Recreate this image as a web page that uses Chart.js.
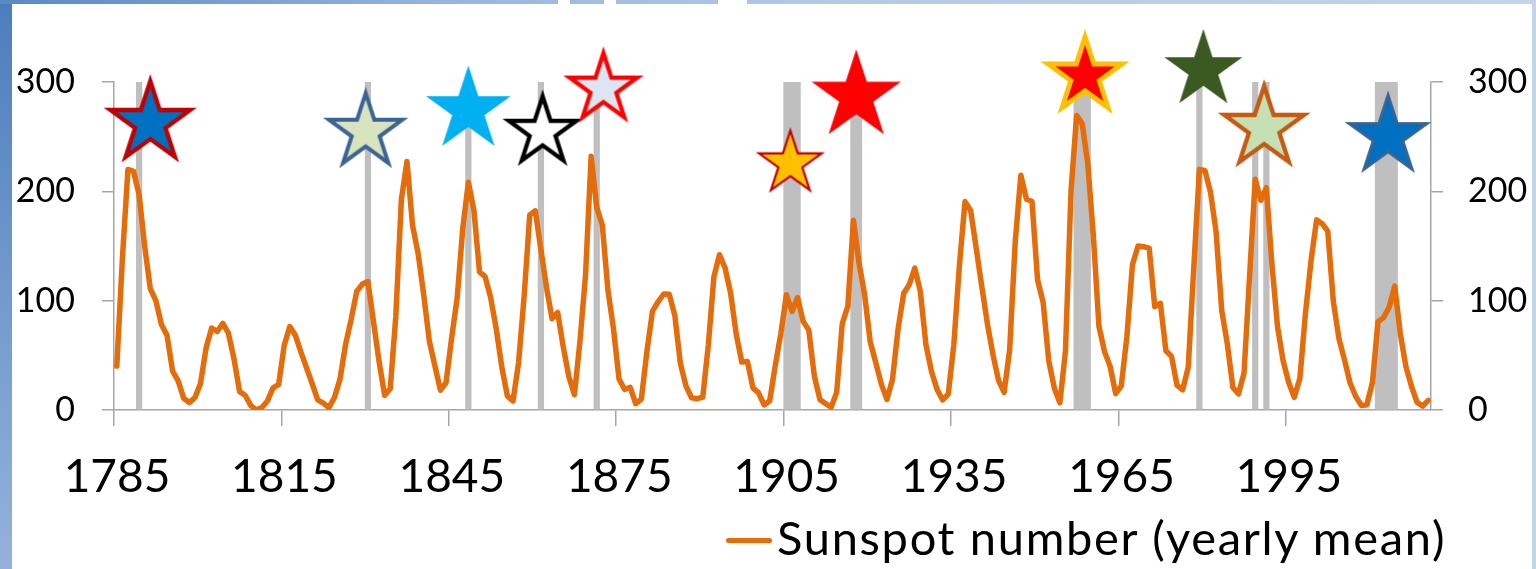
<!DOCTYPE html>
<html>
<head>
<meta charset="utf-8">
<title>Sunspot number (yearly mean)</title>
<script src="https://cdn.jsdelivr.net/npm/chart.js@4.4.1/dist/chart.umd.min.js"></script>
<style>
  html, body { margin: 0; padding: 0; }
  body { width: 1536px; height: 569px; overflow: hidden; position: relative; background: #c4d5ea; font-family: Lato, "Open Sans", sans-serif; }
  #leftstrip { position: absolute; left: 0; top: 0; width: 12px; height: 569px; background: linear-gradient(180deg, #4c7dbc 0%, #7199cc 50%, #93b2db 100%); }
  #topstrip { position: absolute; left: 0; top: 0; width: 1536px; height: 4px; background: linear-gradient(90deg, #5b88c4 0%, #9ab6dc 30%, #b5cae5 55%, #c2d3ea 100%); }
  .gap { position: absolute; top: 0; height: 4px; background: #fff; }
  #panel { position: absolute; left: 12px; top: 4px; width: 1520px; height: 565px; background: #fff; }
  #wrap { position: absolute; left: 0; top: 0; width: 1536px; height: 569px; }
  #legend { position: absolute; left: 777px; top: 509px; font-size: 47px; line-height: 56px; letter-spacing: 1.7px; color: #000; white-space: nowrap; }
  #swatch { position: absolute; left: 726px; top: 538px; width: 46px; height: 5px; border-radius: 3px; background: #e46c0a; }
</style>
</head>
<body>
<div id="leftstrip"></div>
<div id="topstrip"></div>
<div class="gap" style="left:558px;width:12px"></div>
<div class="gap" style="left:604px;width:12px"></div>
<div class="gap" style="left:718px;width:29px"></div>
<div id="panel"></div>
<div id="wrap"><canvas id="chart"></canvas></div>
<div id="swatch"></div>
<div id="legend">Sunspot number (yearly mean)</div>
<script>
// yearly mean sunspot number, 1785 .. 2020
const firstYear = 1785;
const sunspots = [
  40.2, 138.2, 220.0, 218.2, 196.8,
  149.8, 111.0, 100.0, 78.2, 68.3, 35.5, 26.7, 10.7, 6.8, 11.3,
  24.2, 56.7, 75.0, 71.8, 79.2, 70.3, 46.8, 16.8, 13.5, 4.2,
  0.0, 2.3, 8.3, 20.3, 23.2, 59.0, 76.3, 68.3, 52.9, 38.5,
  24.2, 9.2, 6.3, 2.2, 11.4, 28.2, 59.9, 83.0, 108.5, 115.2,
  117.4, 80.8, 44.3, 13.4, 19.5, 85.8, 192.7, 227.3, 168.7, 143.0,
  105.5, 63.3, 40.3, 18.1, 25.1, 65.8, 102.7, 166.3, 208.3, 182.5,
  126.3, 122.0, 102.7, 74.1, 39.0, 12.7, 8.2, 43.4, 104.4, 178.3,
  182.2, 146.6, 112.1, 83.5, 89.2, 57.8, 30.7, 13.9, 62.8, 123.6,
  232.0, 185.3, 169.2, 110.1, 74.5, 28.3, 18.9, 20.7, 5.7, 10.0,
  53.7, 90.5, 99.0, 106.1, 105.8, 86.3, 42.4, 21.8, 11.2, 10.4,
  11.8, 59.5, 121.7, 142.0, 130.0, 106.6, 69.4, 43.8, 44.4, 20.2,
  15.7, 4.6, 8.5, 40.8, 70.1, 105.5, 90.1, 102.8, 80.9, 73.2,
  30.9, 9.5, 6.0, 2.4, 16.1, 79.0, 95.0, 173.6, 134.6, 105.7,
  62.7, 43.5, 23.7, 9.7, 27.9, 74.0, 106.5, 114.7, 129.7, 108.2,
  59.4, 35.1, 18.6, 9.2, 14.6, 60.2, 132.8, 190.6, 182.6, 148.0,
  113.0, 79.2, 50.8, 27.1, 16.1, 55.3, 154.3, 214.7, 193.0, 190.7,
  118.9, 98.3, 45.0, 20.1, 6.6, 54.2, 200.7, 269.3, 261.7, 225.1,
  159.0, 76.4, 53.4, 39.9, 15.0, 22.0, 66.8, 132.9, 150.0, 149.4,
  148.0, 94.4, 97.6, 54.1, 49.2, 22.5, 18.4, 39.3, 131.0, 220.1,
  218.9, 198.9, 162.4, 91.0, 60.5, 20.6, 14.8, 33.9, 123.0, 211.1,
  191.8, 203.3, 133.0, 76.1, 44.9, 25.1, 11.6, 28.9, 88.3, 136.3,
  173.9, 170.4, 163.6, 99.3, 65.3, 45.8, 24.7, 12.6, 4.2, 4.8,
  24.9, 80.8, 84.5, 94.0, 113.3, 69.8, 39.8, 21.7, 7.0, 3.6,
  8.8
];
const years = sunspots.map((v, i) => firstYear + i);

// grey marker bars (years), drawn up to the top of the axis
const barYears = [1789, 1830, 1848, 1861, 1871, 1905, 1906, 1907, 1917, 1918,
                  1957, 1958, 1959, 1979, 1989, 1991, 2011, 2012, 2013, 2014];
const barTop = 300;

// star markers
const starYears  = [1791.0, 1829.6, 1848.0, 1861.3, 1872.2, 1905.7, 1917.5, 1958.5, 1979.7, 1990.6, 2012.8];
const starValues = [262.5, 254.5, 274.5, 254.5, 294.0, 225.5, 287.0, 305.5, 311.0, 258.0, 250.5];

// axis ticks
const xTickYears  = [1785, 1815, 1845, 1875, 1905, 1935, 1965, 1995];
const xTickLabels = ['1785', '1815', '1845', '1875', '1905', '1935', '1965', '1995'];
const yTicks = [0, 100, 200, 300];

// star looks: path radius, outline width, fill, outline
const starStyles = [
  { r: 42,   lw: 4.3, fill: '#0070c0', stroke: '#c00000' },
  { r: 38.5, lw: 4.0, fill: '#d7e4bd', stroke: '#3b6496' },
  { r: 44.5, lw: 0,   fill: '#00b0f0' },
  { r: 35.5, lw: 4.2, fill: '#ffffff', stroke: '#000000' },
  { r: 35.5, lw: 4.2, fill: '#dce6f2', stroke: '#ff0000' },
  { r: 33,   lw: 2.2, fill: '#ffc000', stroke: '#c00000' },
  { r: 47,   lw: 0,   fill: '#ff0000' },
  { r: 39,   lw: 4.9, fill: '#ff0000', stroke: '#ffc000' },
  { r: 41,   lw: 0,   fill: '#3a5a22' },
  { r: 42,   lw: 4.3, fill: '#c5e0b4', stroke: '#c55a11' },
  { r: 41,   lw: 2.9, fill: '#0070c0', stroke: '#3b6496' }
];

const AXIS_GREY = '#a6a6a6';
const FONT = 'Lato';

// draw a five point star on its own little canvas, used as a point style
function makeStar(s) {
  const reach = s.r + (s.lw ? s.lw * 1.7 : 0) + 2;
  const c = document.createElement('canvas');
  c.width = c.height = 2 * Math.ceil(reach);
  const g = c.getContext('2d');
  const cx = c.width / 2, cy = c.height / 2;
  g.beginPath();
  for (let k = 0; k < 10; k++) {
    const a = -Math.PI / 2 + k * Math.PI / 5;
    const rad = k % 2 ? s.r * 0.382 : s.r;
    const px = cx + rad * Math.cos(a);
    const py = cy + rad * Math.sin(a);
    if (k === 0) g.moveTo(px, py); else g.lineTo(px, py);
  }
  g.closePath();
  g.fillStyle = s.fill;
  g.fill();
  if (s.lw) {
    g.lineWidth = s.lw;
    g.lineJoin = 'miter';
    g.miterLimit = 10;
    g.strokeStyle = s.stroke;
    g.stroke();
  }
  return c;
}

const ctx = document.getElementById('chart').getContext('2d');

new Chart(ctx, {
  type: 'line',
  data: {
    datasets: [
      {
        type: 'scatter',
        label: 'stars',
        data: starYears.map((x, i) => ({ x: x, y: starValues[i] })),
        pointStyle: starStyles.map(makeStar),
        pointRadius: 30,
        clip: false,
        order: 1
      },
      {
        type: 'line',
        label: 'Sunspot number (yearly mean)',
        data: years.map((x, i) => ({ x: x, y: sunspots[i] })),
        borderColor: '#e46c0a',
        borderWidth: 5.5,
        borderJoinStyle: 'round',
        borderCapStyle: 'round',
        pointRadius: 0,
        tension: 0,
        fill: false,
        order: 2
      },
      {
        type: 'bar',
        label: 'marks',
        data: barYears.map(x => ({ x: x, y: barTop })),
        backgroundColor: '#bfbfbf',
        borderWidth: 0,
        barPercentage: 1,
        categoryPercentage: 1,
        order: 3
      }
    ]
  },
  options: {
    responsive: true,
    maintainAspectRatio: false,
    animation: false,
    events: [],
    layout: { padding: { top: 82, left: 0, right: 0, bottom: 0 } },
    plugins: {
      legend: { display: false },
      tooltip: { enabled: false }
    },
    scales: {
      x: {
        type: 'linear',
        min: 1784.5,
        max: 2020.5,
        offset: false,
        afterBuildTicks: function(scale) {
          scale.ticks = xTickYears.map(y => ({ value: y - 0.5 }));
        },
        afterFit: function(scale) { scale.height = 159; },
        grid: {
          display: true,
          offset: false,
          drawOnChartArea: false,
          drawTicks: true,
          tickLength: 16,
          color: AXIS_GREY,
          lineWidth: 1.5
        },
        border: { display: true, color: AXIS_GREY, width: 1.5 },
        ticks: {
          autoSkip: false,
          maxRotation: 0,
          color: '#000',
          font: { family: FONT, size: 46 },
          padding: 24,
          labelOffset: 3,
          callback: function(value, index) { return xTickLabels[index]; }
        }
      },
      y: {
        position: 'left',
        min: 0,
        max: 300,
        afterBuildTicks: function(scale) {
          scale.ticks = yTicks.map(v => ({ value: v }));
        },
        afterFit: function(scale) { scale.width = 114; },
        grid: { drawOnChartArea: false, tickLength: 12, color: AXIS_GREY, lineWidth: 1.5 },
        border: { display: true, color: AXIS_GREY, width: 1.5 },
        ticks: { color: '#000', font: { family: FONT, size: 34 }, padding: 27 }
      },
      y2: {
        position: 'right',
        min: 0,
        max: 300,
        afterBuildTicks: function(scale) {
          scale.ticks = yTicks.map(v => ({ value: v }));
        },
        afterFit: function(scale) { scale.width = 105; },
        grid: { drawOnChartArea: false, tickLength: 12, color: AXIS_GREY, lineWidth: 1.5 },
        border: { display: true, color: AXIS_GREY, width: 1.5 },
        ticks: { color: '#000', font: { family: FONT, size: 34 }, padding: 25 }
      }
    }
  }
});
</script>
</body>
</html>
